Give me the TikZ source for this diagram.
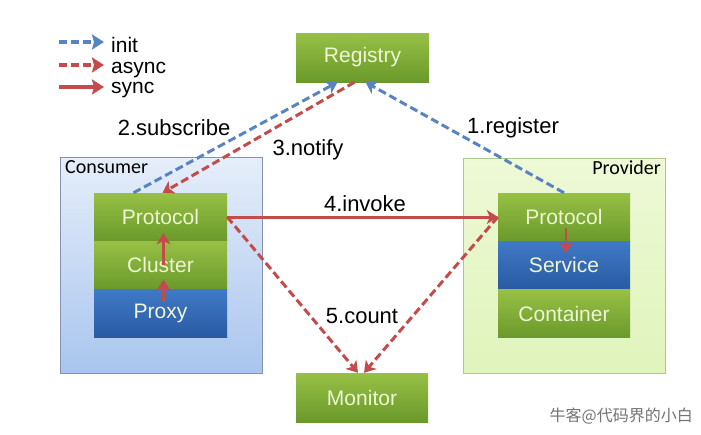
\documentclass[tikz,border=0pt]{standalone}
\usepackage{fontspec}
\setmainfont{Liberation Sans}
\newfontfamily\boxfont{Carlito}
\newfontfamily\cjkfont{Noto Sans CJK SC}
\usepackage{xcolor}
\usepackage{tikz}
\usetikzlibrary{arrows.meta}
\usetikzlibrary{positioning}

\definecolor{greentop}{HTML}{97C045}
\definecolor{greenbot}{HTML}{6A992B}
\definecolor{bluetop}{HTML}{4079C6}
\definecolor{bluebot}{HTML}{295AA3}
\definecolor{initblue}{HTML}{5A84C1}
\definecolor{callred}{HTML}{C44B4B}
\definecolor{layertext}{HTML}{EEF6D4}
\definecolor{consumertop}{HTML}{E6EEFA}
\definecolor{consumerbot}{HTML}{A9C5EE}
\definecolor{consumerline}{HTML}{8294B2}
\definecolor{providertop}{HTML}{EEF9D6}
\definecolor{providerbot}{HTML}{E0F4BC}
\definecolor{providerline}{HTML}{AACA8C}

\tikzset{
  layer/.style={minimum width=133pt, minimum height=48pt, inner sep=0pt,
    text=layertext, font=\fontsize{21}{21}\selectfont},
  greenlayer/.style={layer, top color=greentop, bottom color=greenbot},
  bluelayer/.style={layer, top color=bluetop, bottom color=bluebot},
  steplabel/.style={font=\fontsize{22}{22}\selectfont, inner sep=1pt},
  legendlabel/.style={anchor=base west, font=\fontsize{21}{21}\selectfont, inner sep=0pt},
  legendtip/.style={-{Stealth[length=12pt,width=15pt,inset=2pt]}},
  initline/.style={initblue, line width=3pt, dash pattern=on 8pt off 4pt, -{Stealth[length=11pt,width=14pt,inset=3pt]}},
  asyncline/.style={callred, line width=3pt, dash pattern=on 8pt off 4pt, -{Stealth[length=11pt,width=14pt,inset=3pt]}},
  syncline/.style={callred, line width=3pt, -{Stealth[length=11pt,width=14pt,inset=3pt]}}
}

\begin{document}
\begin{tikzpicture}[x=1pt, y=-1pt]
                \useasboundingbox (0,0) rectangle (701,434);
                % legend
                \coordinate (li0) at (59,42);  \coordinate (li1) at (104,42);
                \coordinate (la0) at (59,65);  \coordinate (la1) at (104,65);
                \coordinate (ls0) at (59,87);  \coordinate (ls1) at (104,87);
                \draw[initline, line width=3.5pt, legendtip] (li0) -- (li1);
                \draw[asyncline, line width=3.5pt, legendtip] (la0) -- (la1);
                \draw[syncline, line width=3.5pt, legendtip] (ls0) -- (ls1);
                \node[legendlabel] (tinit) at (111,52) {init};
                \node[legendlabel] (tasync) at (111,73) {async};
                \node[legendlabel] (tsync) at (111,93) {sync};
                % Registry and Monitor
                \node[greenlayer, minimum height=49pt] (registry) at (362.5,57.5) {Registry};
                \node[greenlayer, minimum width=132pt, minimum height=49pt] (monitor) at (362,397.5) {Monitor};
                % Consumer
                \node[draw=consumerline, line width=1pt, top color=consumertop, bottom color=consumerbot,
                      minimum width=202pt, minimum height=216pt] (consumer) at (161,265) {};
                \node[anchor=north west, font=\boxfont\fontsize{20}{20}\selectfont, inner sep=0pt] (tconsumer) at (65,160) {Consumer};
                \node[greenlayer] (cprotocol) at (160.5,217) {Protocol};
                \node[greenlayer, below=0pt of cprotocol] (ccluster) {Cluster};
                \node[bluelayer, below=0pt of ccluster] (cproxy) {Proxy};
                % Provider
                \node[draw=providerline, line width=1pt, top color=providertop, bottom color=providerbot,
                      minimum width=202pt, minimum height=215pt] (provider) at (564,265.5) {};
                \node[anchor=north east, font=\boxfont\fontsize{20}{20}\selectfont, inner sep=0pt] (tprovider) at (661,160) {Provider};
                \node[greenlayer, minimum width=132pt] (pprotocol) at (564,217) {Protocol};
                \node[bluelayer, minimum width=132pt, below=0pt of pprotocol] (pservice) {Service};
                \node[greenlayer, minimum width=132pt, below=0pt of pservice] (pcontainer) {Container};
                % inner calls
                \draw[syncline, line width=2.4pt] ([xshift=3pt,yshift=-12pt]cproxy.north) -- ([xshift=3pt,yshift=10pt]cproxy.north);
                \draw[syncline, line width=2.4pt] ([xshift=3pt]ccluster.center) -- ([xshift=3pt,yshift=8pt]ccluster.north);
                \draw[syncline, line width=2.4pt] ([xshift=2pt,yshift=-11pt]pprotocol.center) -- ([xshift=2pt,yshift=-12pt]pservice.north);
                % steps
                \draw[initline] ([xshift=-27pt]cprotocol.north) -- ([xshift=-25pt]registry.south);
                \draw[asyncline] ([xshift=-8pt]registry.south) -- ([xshift=2pt]cprotocol.north);
                \draw[initline] (pprotocol.north) -- ([xshift=3pt]registry.south);
                \draw[syncline] (cprotocol.east) -- (pprotocol.west);
                \draw[asyncline] (cprotocol.east) -- ([xshift=-4pt]monitor.north);
                \draw[asyncline] (pprotocol.west) -- ([xshift=2pt]monitor.north);
                \node[steplabel] (lsubscribe) at (174,128) {2.subscribe};
                \node[steplabel] (lnotify) at (308,150) {3.notify};
                \node[steplabel] (lregister) at (513,128) {1.register};
                \node[steplabel] (linvoke) at (365,204) {4.invoke};
                \node[steplabel] (lcount) at (362,316) {5.count};
                % watermark
                \node[anchor=east, text=black!55, font=\cjkfont\fontsize{16}{16}\selectfont, inner sep=0pt] (mark) at (693,416) {牛客@代码界的小白};
            \end{tikzpicture}
\end{document}
